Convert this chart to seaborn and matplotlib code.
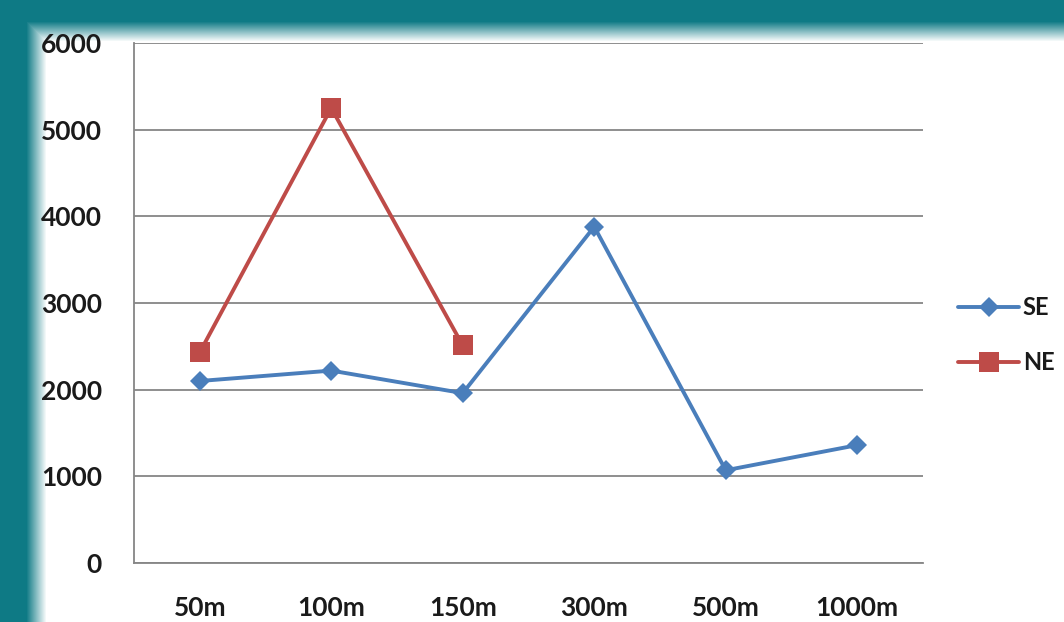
import numpy as np
import pandas as pd
import matplotlib.pyplot as plt
import seaborn as sns

categories = ["50m", "100m", "150m", "300m", "500m", "1000m"]
se_values = [2100, 2220, 1960, 3880, 1070, 1360]
ne_values = [2430, 5250, 2510, np.nan, np.nan, np.nan]

W, H = 1064, 622
teal = np.array([14, 122, 133]) / 255.0


def make_background():
    # teal frame on top and left, soft glow into the white panel
    yy, xx = np.mgrid[0:H, 0:W]
    d = np.minimum(xx - 32, yy - 27).astype(float)
    t = np.clip((d + 6) / 20.0, 0, 1)
    img = np.ones((H, W, 3))
    for c in range(3):
        img[..., c] = teal[c] * (1 - t) + 1.0 * t
    return img


if __name__ == "__main__":
    sns.set_theme(style="white")
    plt.rcParams["font.family"] = ["Lato", "DejaVu Sans"]

    df = pd.DataFrame({
        "pos": list(range(len(categories))) * 2,
        "value": se_values + ne_values,
        "series": ["SE"] * len(categories) + ["NE"] * len(categories),
    })

    fig = plt.figure(figsize=(W / 100, H / 100), dpi=100)
    bg = fig.add_axes([0, 0, 1, 1])
    bg.imshow(make_background(), aspect="auto", interpolation="bilinear")
    bg.set_axis_off()

    ax = fig.add_axes([134 / W, (H - 563) / H, (923 - 134) / W, (563 - 43) / H])
    ax.patch.set_alpha(0)

    sns.lineplot(data=df, x="pos", y="value", hue="series", style="series",
                 palette={"SE": "#4A7EBB", "NE": "#BE4B48"},
                 markers={"SE": "D", "NE": "s"}, dashes=False,
                 linewidth=2.8, markeredgewidth=0, ax=ax, legend=False)
    for line in ax.lines:
        if line.get_marker() == "s":
            line.set_markersize(14)
        else:
            line.set_markersize(10)

    ax.set_xlim(-0.5, len(categories) - 0.5)
    ax.set_ylim(0, 6000)
    ax.set_yticks(range(0, 6001, 1000))
    ax.set_xticks(np.arange(-0.5, len(categories), 1.0))
    ax.set_xticklabels([])
    ax.set_xticks(range(len(categories)), minor=True)
    ax.set_xticklabels(categories, minor=True)
    ax.tick_params(axis="x", which="minor", length=0, pad=24)
    ax.tick_params(axis="x", which="major", length=9, width=1.3, color="#868686", direction="out")
    ax.tick_params(axis="y", length=9, width=1.3, color="#868686", direction="out", pad=14)
    for lab in ax.get_xticklabels(minor=True) + ax.get_yticklabels():
        lab.set_fontsize(19)
        lab.set_fontweight("bold")
        lab.set_color("#1a1a1a")

    ax.yaxis.grid(True, color="#868686", linewidth=1.3)
    ax.set_axisbelow(True)
    for s in ["top", "right"]:
        ax.spines[s].set_visible(False)
    for s in ["left", "bottom"]:
        ax.spines[s].set_color("#868686")
        ax.spines[s].set_linewidth(1.3)
    ax.set(xlabel=None, ylabel=None)

    handles = [ax.lines[0], ax.lines[1]]
    fig.legend(handles, ["SE", "NE"], loc="center left",
               bbox_to_anchor=(958 / W, 1 - 335 / H), frameon=False,
               prop={"size": 17, "weight": "bold"}, handlelength=2.6,
               handletextpad=0.15, labelspacing=1.35, labelcolor="#1a1a1a",
               borderaxespad=0, borderpad=0)

    plt.savefig("out.png", dpi=100)
